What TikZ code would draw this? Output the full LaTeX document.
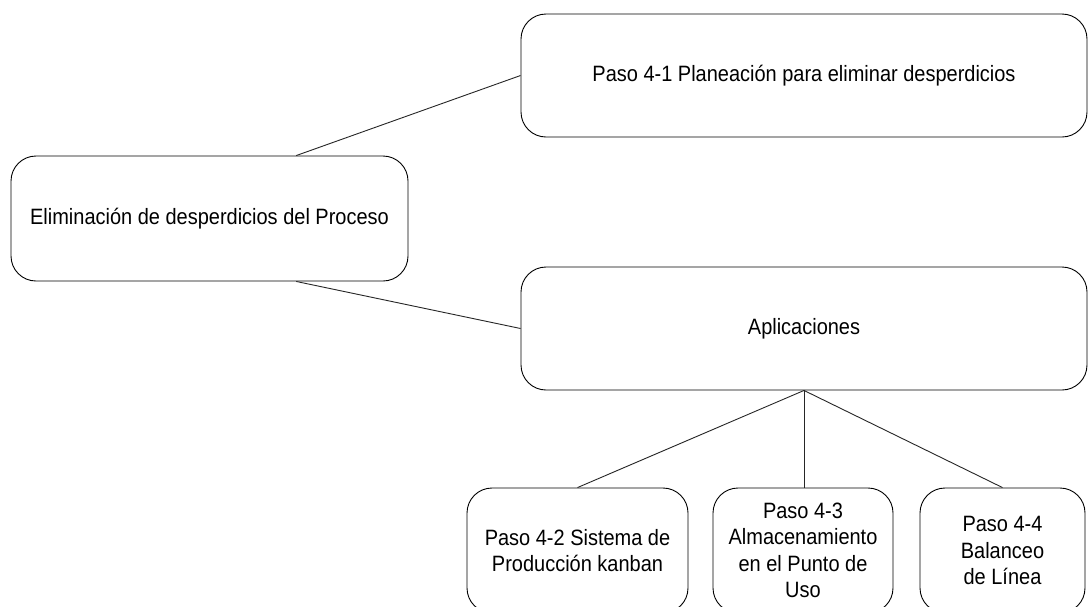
\documentclass[tikz,border=0pt]{standalone}
\usepackage{fontspec}
\setmainfont[FakeStretch=0.9]{Liberation Sans}
\usetikzlibrary{calc}
\begin{document}
\begin{tikzpicture}[x=1pt,y=-1pt,
  box/.style={draw=black,line width=0.9pt,rounded corners=25pt,inner sep=0pt,
    align=center,font=\fontsize{22.2}{26.5}\selectfont},
  link/.style={draw=black!85,line width=0.9pt}]
\useasboundingbox (0,0) rectangle (1089,606);
\clip (0,0) rectangle (1089,606);
\fill[white] (0,0) rectangle (1089,606);
\node[box,minimum width=397pt,minimum height=125pt] (root) at (209.5,218.5) {Eliminación de desperdicios del Proceso};
\node[box,minimum width=566pt,minimum height=123pt] (p41) at (804,75.5) {Paso 4-1 Planeación para eliminar desperdicios};
\node[box,minimum width=566pt,minimum height=123pt] (apl) at (804,328.5) {Aplicaciones};
\node[box,minimum width=221pt,minimum height=125pt] (p42) at (577.5,550.5) {Paso 4-2 Sistema de\\Producción kanban};
\node[box,minimum width=180pt,minimum height=125pt] (p43) at (803,550.5) {Paso 4-3\\Almacenamiento\\en el Punto de\\Uso};
\node[box,minimum width=165pt,minimum height=125pt] (p44) at (1002.5,550.5) {Paso 4-4\\Balanceo\\de Línea};
\draw[link] ($(root.north west)!0.718!(root.north east)$) -- (p41.west);
\draw[link] ($(root.south west)!0.718!(root.south east)$) -- (apl.west);
\draw[link] (apl.south) -- (p42.north);
\draw[link] (apl.south) -- (apl.south |- p43.north);
\draw[link] (apl.south) -- (p44.north);
\end{tikzpicture}
\end{document}
